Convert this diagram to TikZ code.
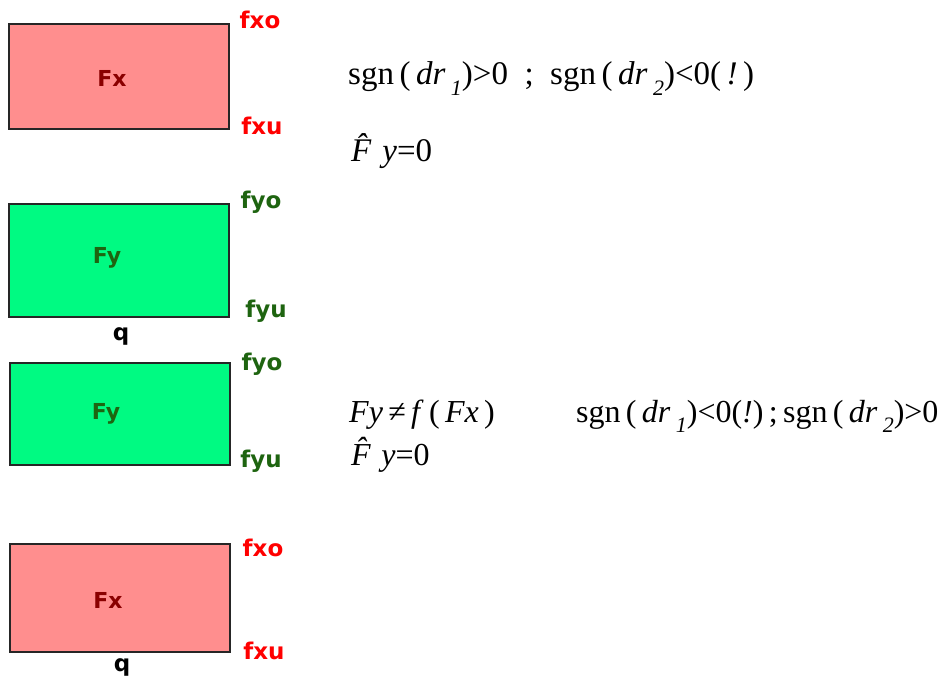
\documentclass[tikz,border=0pt]{standalone}
\usepackage{fontspec}
\setmainfont{Liberation Serif}
\newfontfamily\lblfont{DejaVu Sans}
\definecolor{boxred}{HTML}{FF8E8E}
\definecolor{boxgreen}{HTML}{00FA82}
\definecolor{txtred}{HTML}{FF0000}
\definecolor{darkred}{HTML}{8A0000}
\definecolor{dgreen}{HTML}{1E6410}
\newcommand{\mysub}[1]{\,\raisebox{-0.32em}{\fontsize{22}{24}\selectfont\textit{#1}}}
\tikzset{
  fbox/.style={draw=black!85, line width=1.8pt},
  lbl/.style={font=\lblfont\bfseries\fontsize{23}{25}\selectfont, inner sep=0pt},
  ttl/.style={font=\lblfont\bfseries\fontsize{22}{24}\selectfont, inner sep=0pt},
  eq/.style={font=\fontsize{33}{36}\selectfont, inner sep=0pt, anchor=base west},
  eqb/.style={font=\fontsize{32}{36}\selectfont, inner sep=0pt, anchor=base west}
}
\begin{document}
\begin{tikzpicture}[x=1pt,y=-1pt]
\useasboundingbox (0,0) rectangle (949,684);
% boxes
\node[fbox, fill=boxred, minimum width=220pt, minimum height=105pt, anchor=north west] (bx1) at (8,23) {};
\node[fbox, fill=boxgreen, minimum width=220pt, minimum height=113pt, anchor=north west] (by1) at (8,203) {};
\node[fbox, fill=boxgreen, minimum width=220pt, minimum height=102pt, anchor=north west] (by2) at (9,362) {};
\node[fbox, fill=boxred, minimum width=220pt, minimum height=108pt, anchor=north west] (bx2) at (9,543) {};
% box titles
\node[ttl, text=darkred] (tx1) at (112,78) {Fx};
\node[ttl, text=dgreen] (ty1) at (107,258) {Fy};
\node[ttl, text=dgreen] (ty2) at (106,414) {Fy};
\node[ttl, text=darkred] (tx2) at (108,600) {Fx};
% side labels
\node[lbl, text=txtred] (fxo1) at (260,20) {fxo};
\node[lbl, text=txtred] (fxu1) at (262,126) {fxu};
\node[lbl, text=dgreen] (fyo1) at (261,202) {fyo};
\node[lbl, text=dgreen] (fyu1) at (266,311) {fyu};
\node[lbl, text=black] (q1) at (121,336) {q};
\node[lbl, text=dgreen] (fyo2) at (262,364) {fyo};
\node[lbl, text=dgreen] (fyu2) at (261,461) {fyu};
\node[lbl, text=txtred] (fxo2) at (263,548) {fxo};
\node[lbl, text=txtred] (fxu2) at (264,651) {fxu};
\node[lbl, text=black] (q2) at (122,667) {q};
% equations
\node[eq] (e1) at (348,85) {sgn\,(\,\textit{dr}\mysub{1})>0\ \ ;\ \ sgn\,(\,\textit{dr}\mysub{2})<0(\,\textit{!}\,)};
\node[eq] (e2) at (351,162) {\textit{\^{F}\,\,y}=0};
\node[eqb] (e3) at (349,422) {\textit{Fy}\,≠\,\textit{f}\,(\,\textit{Fx}\,)};
\node[eqb] (e4) at (576,422) {sgn\,(\,\textit{dr}\mysub{1})<0(\textit{!})\,;\,sgn\,(\,\textit{dr}\mysub{2})>0};
\node[eqb] (e5) at (351,465) {\textit{\^{F}\,\,y}=0};
\end{tikzpicture}
\end{document}
